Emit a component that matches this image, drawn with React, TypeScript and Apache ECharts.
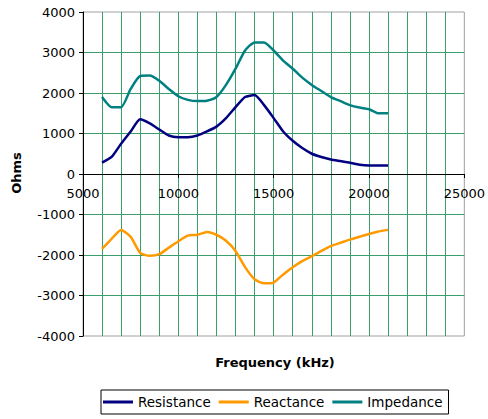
import React, { useEffect, useRef } from "react";
import * as echarts from "echarts";

const frequency = [
  6000, 6500, 7000, 7500, 8000, 8500, 9000, 9500, 10000, 10500, 11000, 11500,
  12000, 12500, 13000, 13500, 14000, 14500, 15000, 15500, 16000, 16500, 17000,
  17500, 18000, 18500, 19000, 19500, 20000, 20500, 21000,
];
const resistance = [
  280, 420, 750, 1050, 1350, 1250, 1100, 950, 910, 910, 950, 1050, 1170, 1380,
  1650, 1900, 1950, 1700, 1380, 1050, 820, 640, 500, 420, 360, 320, 280, 230,
  210, 210, 210,
];
const reactance = [
  -1850, -1600, -1380, -1550, -1950, -2020, -1980, -1820, -1660, -1520, -1500,
  -1430, -1500, -1650, -1900, -2300, -2600, -2700, -2680, -2480, -2300, -2150,
  -2030, -1900, -1780, -1700, -1620, -1550, -1480, -1420, -1380,
];
const impedance = [
  1900, 1650, 1650, 2100, 2420, 2430, 2300, 2100, 1920, 1830, 1800, 1810, 1900,
  2200, 2600, 3050, 3250, 3250, 3050, 2800, 2600, 2380, 2200, 2050, 1900, 1800,
  1700, 1640, 1600, 1500, 1500,
];
const seriesNames = ["Resistance", "Reactance", "Impedance"];
const seriesColors = ["#000080", "#FF9900", "#008080"];
const xTitle = "Frequency (kHz)";
const yTitle = "Ohms";

const FONT = "DejaVu Sans";
const GREEN = "#3a9e6c";

export default function App() {
  const ref = useRef<HTMLDivElement>(null);
  useEffect(() => {
    if (!ref.current) return;
    const chart = echarts.init(ref.current, undefined, { renderer: "svg" });
    const values = [resistance, reactance, impedance];
    chart.setOption({
      animation: false,
      backgroundColor: "#ffffff",
      textStyle: { fontFamily: FONT },
      grid: {
        left: 83,
        right: 21,
        top: 12,
        bottom: 83,
        show: true,
        borderColor: "#a0a0a0",
        borderWidth: 1,
        backgroundColor: "transparent",
      },
      xAxis: {
        type: "value",
        min: 5000,
        max: 25000,
        interval: 5000,
        offset: -162,
        axisLine: { show: true, onZero: false, lineStyle: { color: "#000", width: 1 } },
        axisTick: { show: true, length: 4, lineStyle: { color: "#000" } },
        axisLabel: {
          color: "#000",
          fontSize: 13,
          fontFamily: FONT,
          margin: 13,
          formatter: (v: number) => String(v),
        },
        splitLine: {
          show: true,
          showMinLine: false,
          showMaxLine: false,
          lineStyle: { color: GREEN, width: 1 },
        },
        minorTick: { show: false, splitNumber: 5 },
        minorSplitLine: { show: true, lineStyle: { color: GREEN, width: 1 } },
      },
      yAxis: {
        type: "value",
        min: -4000,
        max: 4000,
        interval: 1000,
        axisLine: { show: true, onZero: false, lineStyle: { color: "#000", width: 1 } },
        axisTick: { show: true, length: 4, lineStyle: { color: "#000" } },
        axisLabel: {
          color: "#000",
          fontSize: 13,
          fontFamily: FONT,
          margin: 8,
          formatter: (v: number) => String(v),
        },
        splitLine: {
          show: true,
          showMinLine: false,
          showMaxLine: false,
          lineStyle: { color: GREEN, width: 1 },
        },
      },
      legend: {
        left: 101,
        top: 390,
        orient: "horizontal",
        borderColor: "#000",
        borderWidth: 1,
        padding: [5, 6, 5, 2],
        itemGap: 8,
        itemWidth: 30,
        itemHeight: 3,
        icon: "rect",
        textStyle: { fontFamily: FONT, fontSize: 13.5, color: "#000" },
        data: seriesNames,
      },
      graphic: [
        {
          type: "text",
          x: 275,
          y: 362,
          style: {
            text: xTitle,
            font: `bold 13px "${FONT}"`,
            fill: "#000",
            align: "center",
            verticalAlign: "middle",
          },
        },
        {
          type: "text",
          x: 16,
          y: 173,
          rotation: Math.PI / 2,
          style: {
            text: yTitle,
            font: `bold 13px "${FONT}"`,
            fill: "#000",
            align: "center",
            verticalAlign: "middle",
          },
        },
      ],
      series: seriesNames.map((name, i) => ({
        name,
        type: "line",
        data: frequency.map((f, j) => [f, values[i][j]]),
        showSymbol: false,
        symbol: "none",
        smooth: 0.2,
        lineStyle: { color: seriesColors[i], width: 2.5 },
        itemStyle: { color: seriesColors[i] },
      })),
    });
    return () => chart.dispose();
  }, []);
  return (
    <div
      ref={ref}
      style={{ position: "absolute", left: 0, top: 0, width: 488, height: 419 }}
    />
  );
}
